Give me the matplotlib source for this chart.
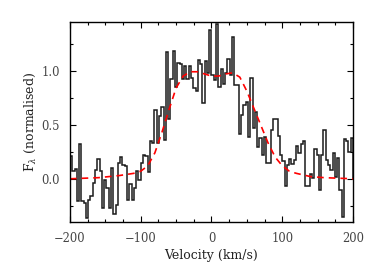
import matplotlib
matplotlib.use("Agg")
import matplotlib.pyplot as plt
import numpy as np
from matplotlib.ticker import MultipleLocator

# Normalised flux per velocity bin (left to right)
flux = [
    0.21, 0.07, 0.09, -0.21, 0.32, -0.21, -0.22, -0.36, -0.20, -0.16,
    -0.04, 0.08, 0.18, 0.07, -0.27, -0.01, -0.09, -0.27, 0.10, -0.33,
    -0.24, 0.15, 0.20, 0.13, 0.12, -0.20, -0.05, -0.20, -0.09, 0.07,
    -0.01,
    0.15, 0.22, 0.21, 0.06, 0.35, 0.33, 0.64, 0.33, 0.58, 0.66,
    0.36, 1.17, 0.55, 0.92, 1.18, 0.85, 1.07, 1.06, 0.92, 1.04,
    0.92, 1.04, 0.93, 0.84, 0.81, 1.10, 1.06, 0.70, 1.09, 0.98,
    1.38, 0.96,
    0.91, 1.43, 0.85, 1.02, 0.88, 0.98, 1.11, 0.96, 1.31, 0.87,
    0.87, 0.41, 0.59, 0.68, 0.71, 0.39, 0.93, 0.47, 0.62, 0.29,
    0.38, 0.22, 0.39, 0.15, 0.15, 0.45, 0.55, 0.55, 0.40, 0.22,
    0.16,
    -0.07, 0.13, 0.18, 0.14, 0.17, 0.30, 0.24, 0.32, 0.35, -0.07,
    -0.07, 0.04, 0.01, 0.28, 0.22, -0.10, 0.22, 0.45, 0.17, 0.13,
    0.08, 0.24, 0.02, 0.19, -0.10, -0.35, 0.37, 0.35, 0.25, 0.38,
]

# Model fit (red dashed)
model_v = [-200, -160, -130, -110, -100, -90, -80, -70, -60, -50, -40, -30,
           -20, -10, 0, 10, 20, 30, 40, 50, 60, 70, 80, 90, 100, 110, 120,
           140, 160, 200]
model_f = [0.0, 0.01, 0.03, 0.05, 0.07, 0.12, 0.24, 0.43, 0.64, 0.84, 0.95,
           0.99, 0.99, 0.97, 0.95, 0.95, 0.97, 0.98, 0.94, 0.81, 0.65, 0.49,
           0.33, 0.20, 0.12, 0.07, 0.05, 0.02, 0.01, 0.0]

edges = np.linspace(-200, 200, len(flux) + 1)

plt.rcParams["font.family"] = "DejaVu Serif"
plt.rcParams["mathtext.fontset"] = "dejavuserif"

fig = plt.figure(figsize=(3.74, 2.67), dpi=100)
ax = fig.add_axes([0.187, 0.1685, 0.757, 0.749])

ax.stairs(flux, edges, color="#1a1a1a", linewidth=1.1)
ax.plot(model_v, model_f, color="red", linestyle=(0, (4, 3)), linewidth=1.2)

ax.set_xlim(-200, 200)
ax.set_ylim(-0.4, 1.45)
ax.xaxis.set_major_locator(MultipleLocator(100))
ax.xaxis.set_minor_locator(MultipleLocator(25))
ax.yaxis.set_major_locator(MultipleLocator(0.5))
ax.yaxis.set_minor_locator(MultipleLocator(0.25))
ax.yaxis.set_major_formatter(matplotlib.ticker.FormatStrFormatter("%.1f"))

ax.tick_params(which="both", direction="in", top=True, right=True,
               labelsize=8.3, labelcolor="#444444", width=0.8)
ax.tick_params(which="major", length=4.5, pad=7)
ax.tick_params(which="minor", length=2.5)
for s in ax.spines.values():
    s.set_linewidth(1.0)

ax.set_xlabel("Velocity (km/s)", fontsize=9, labelpad=3, color="#222222")
ax.set_ylabel(r"F$_\lambda$ (normalised)", fontsize=9, labelpad=3,
              color="#222222")

fig.savefig("out.png", dpi=100)
